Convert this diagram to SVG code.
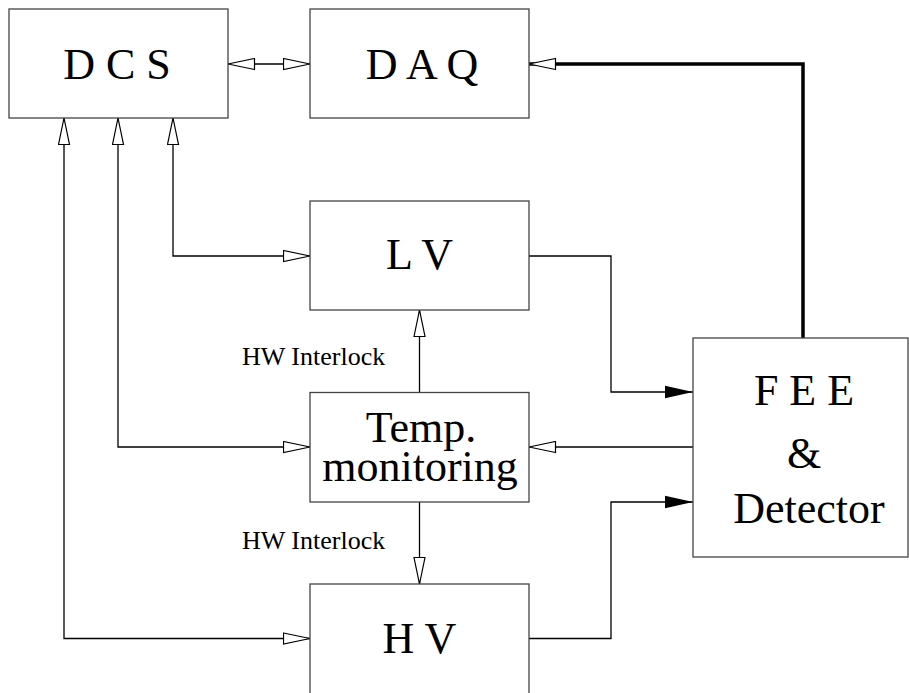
<svg xmlns="http://www.w3.org/2000/svg" width="909" height="693" viewBox="0 0 909 693">
<style>
.box{fill:#fff;stroke:#444;stroke-width:1.3}
.c{fill:none;stroke:#000;stroke-width:1.3}
.thick{fill:none;stroke:#000;stroke-width:3.5}
</style>
<defs>
<marker id="open" markerUnits="userSpaceOnUse" markerWidth="29" markerHeight="13" refX="27.5" refY="6.5" orient="auto-start-reverse" viewBox="0 0 29 13">
<path d="M1,1 L27.5,6.5 L1,12 Z" fill="#fff" stroke="#000" stroke-width="1.2"/>
</marker>
<marker id="filled" markerUnits="userSpaceOnUse" markerWidth="29" markerHeight="14" refX="28" refY="7" orient="auto" viewBox="0 0 29 14">
<path d="M0,0.7 L28,7 L0,13.3 Z" fill="#000"/>
</marker>
</defs>
<g id="connectors">
<path class="c" d="M228,64 H310" marker-start="url(#open)" marker-end="url(#open)"/>
<path class="thick" d="M803,338 V64 H529" marker-end="url(#open)"/>
<path class="c" d="M173,118 V256 H310" marker-start="url(#open)" marker-end="url(#open)"/>
<path class="c" d="M118,118 V447 H310" marker-start="url(#open)" marker-end="url(#open)"/>
<path class="c" d="M64,118 V638.5 H310" marker-start="url(#open)" marker-end="url(#open)"/>
<path class="c" d="M419.5,392.5 V310" marker-end="url(#open)"/>
<path class="c" d="M419.5,502 V584" marker-end="url(#open)"/>
<path class="c" d="M529,256 H611 V392 H693" marker-end="url(#filled)"/>
<path class="c" d="M693,447 H529" marker-end="url(#open)"/>
<path class="c" d="M529,638.5 H611 V502 H693" marker-end="url(#filled)"/>
</g>
<g font-family="Liberation Serif, serif" font-size="44" text-anchor="middle" fill="#000">
<g id="dcs"><rect class="box" x="9" y="9" width="219" height="109"/><text x="117" y="79">D C S</text></g>
<g id="daq"><rect class="box" x="310" y="9" width="219" height="109"/><text x="422" y="79">D A Q</text></g>
<g id="lv"><rect class="box" x="310" y="201" width="219" height="109"/><text x="419.5" y="269">L V</text></g>
<g id="temp"><rect class="box" x="310" y="392.5" width="219" height="109.5"/><text x="421" y="442">Temp.</text><text x="420" y="481">monitoring</text></g>
<g id="hv"><rect class="box" x="310" y="584" width="219" height="120"/><text x="419.5" y="653">H V</text></g>
<g id="fee"><rect class="box" x="693" y="338" width="215" height="219"/><text x="804" y="405">F E E</text><text x="804" y="468">&amp;</text><text x="809" y="523">Detector</text></g>
</g>
<g id="labels" font-family="Liberation Serif, serif" font-size="26" fill="#000"><text x="242" y="365">HW Interlock</text><text x="242" y="549">HW Interlock</text></g>
</svg>
